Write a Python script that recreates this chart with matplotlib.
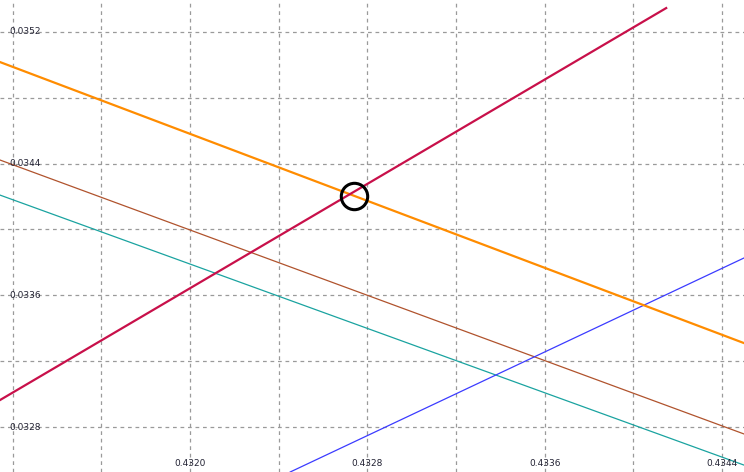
import numpy as np
import matplotlib.pyplot as plt
import matplotlib.transforms as mtransforms

# Price lines: (x_start, x_end) and (y_start, y_end)
crimson_x = [0.431143, 0.434148]
crimson_y = [0.032964, 0.035345]
orange_x = [0.431143, 0.434499]
orange_y = [0.035017, 0.033310]
sienna_x = [0.431143, 0.434499]
sienna_y = [0.034422, 0.032758]
teal_x = [0.431143, 0.434499]
teal_y = [0.034209, 0.032569]
blue_x = [0.432452, 0.434499]
blue_y = [0.032527, 0.033827]

# Intersection marker
cross_x = [0.432740]
cross_y = [0.034203]

x_ticks = [0.4320, 0.4328, 0.4336, 0.4344]
y_ticks = [0.0328, 0.0336, 0.0344, 0.0352]
x_grid = np.arange(0.4312, 0.4346, 0.0004)
y_grid = np.arange(0.0328, 0.0356, 0.0004)

fig = plt.figure(figsize=(7.44, 4.72), dpi=100)
ax = fig.add_axes([0, 0, 1, 1])
ax.set_xlim(0.431143, 0.434499)
ax.set_ylim(0.032527, 0.035394)

for gx in x_grid:
    ax.axvline(gx, color="#9a9a9a", lw=0.9, ls=(0, (3, 3)), zorder=1)
for gy in y_grid:
    ax.axhline(gy, color="#9a9a9a", lw=0.9, ls=(0, (3, 3)), zorder=1)

ax.plot(teal_x, teal_y, color="#1aa3a0", lw=0.9, zorder=2)
ax.plot(sienna_x, sienna_y, color="#b0532d", lw=0.9, zorder=2)
ax.plot(blue_x, blue_y, color="#3b3bff", lw=0.9, zorder=2)
ax.plot(orange_x, orange_y, color="#ff8c00", lw=1.6, zorder=3)
ax.plot(crimson_x, crimson_y, color="#c8104a", lw=1.6, zorder=3)
ax.plot(cross_x, cross_y, "o", ms=19, mfc="none", mec="black", mew=2.2, zorder=4)

ytrans = mtransforms.blended_transform_factory(ax.transAxes, ax.transData)
for v in y_ticks:
    ax.text(0.013, v, f"{v:.4f}", transform=ytrans, fontsize=6.5,
            color="#222233", ha="left", va="center", zorder=5)
xtrans = mtransforms.blended_transform_factory(ax.transData, ax.transAxes)
for v in x_ticks:
    ax.text(v, 0.019, f"{v:.4f}", transform=xtrans, fontsize=6.5,
            color="#222233", ha="center", va="center", zorder=5)

ax.set_xticks([])
ax.set_yticks([])
for s in ax.spines.values():
    s.set_visible(False)

fig.savefig("out.png", dpi=100)
